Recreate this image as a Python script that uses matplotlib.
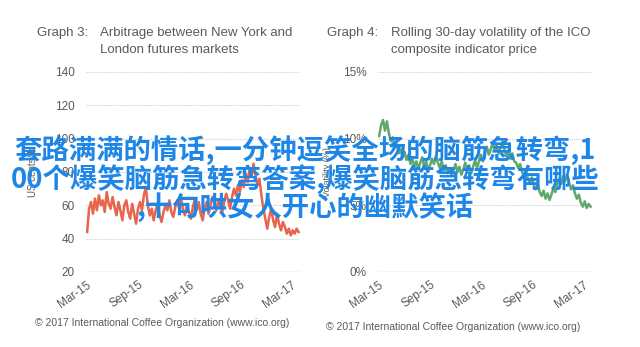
import matplotlib
matplotlib.use("Agg")
import matplotlib.pyplot as plt
import matplotlib.dates as mdates
import numpy as np
import pandas as pd

plt.rcParams["font.family"] = ["Liberation Sans", "DejaVu Sans"]

# ---- data ----
dates = pd.date_range("2015-03-02", periods=109, freq="7D")
arbitrage = [44, 58, 62, 55, 64,
             57, 66, 60, 63, 56, 68, 61, 58, 65,
             59, 54, 62, 57, 51, 60, 63, 56, 52, 61, 55, 49, 58,
             62, 57, 66, 71, 60, 54, 58, 51, 57,
             61, 54, 50, 56, 60, 57, 63, 56, 53, 59, 63, 58, 65, 57, 54, 61, 56,
             52, 59, 64, 57, 62, 55, 51, 58, 62, 55, 60, 65, 61, 57, 63, 59, 56,
             62, 67, 63, 58, 65, 70, 66, 72, 68, 75, 71, 79, 74,
             82, 77, 85, 78, 72, 76, 66, 58, 52,
             46, 53, 58, 51, 47, 55, 49, 45, 50, 47, 43, 46, 42, 45, 43, 46, 44]
volatility = [10.2, 11.0, 11.4, 10.6, 11.3,
              10.4, 9.8, 10.1, 9.3, 9.6, 8.9, 9.2, 8.6, 9.0,
              8.4, 8.8, 8.1, 8.5, 7.9, 8.3, 7.7, 8.2, 8.6, 7.9, 8.3, 7.6, 8.0,
              8.5, 8.1, 8.7, 8.2, 7.8, 8.3, 7.6, 8.0, 7.4,
              7.8, 7.2, 7.6, 8.1, 7.5, 7.9, 7.3, 7.7, 8.2, 7.6, 8.0, 7.4, 7.9, 8.4, 7.8, 8.3, 8.8,
              8.3, 8.9, 9.4, 8.8, 9.2, 9.7, 9.1, 9.5, 8.9, 9.3, 9.8, 9.2, 8.7, 9.1, 8.5, 8.9, 8.3,
              8.2, 7.8, 8.1, 7.5, 7.2, 7.6, 7.0, 6.7, 7.1, 6.5, 6.2, 6.6, 6.0,
              5.7, 6.1, 5.5, 5.9, 5.4, 5.8, 6.3, 6.0, 6.6,
              7.0, 6.6, 7.2, 6.8, 7.3, 6.7, 6.2, 6.5, 5.9, 5.5, 5.8, 5.2, 4.9, 5.3, 4.8, 5.1, 4.9]
tick_dates = pd.to_datetime(["2015-03-01", "2015-09-01", "2016-03-01", "2016-09-01", "2017-03-01"])
left_yticks = [20, 40, 60, 80, 100, 120, 140]
right_yticks = [0, 5, 10, 15]
right_ylabels = ["0%", "5%", "10%", "15%"]

overlay_lines = ["套路满满的情话,一分钟逗笑全场的脑筋急转弯,1",
                 "00个爆笑脑筋急转弯答案,爆笑脑筋急转弯有哪些",
                 ",十句哄女人开心的幽默笑话"]

# ---- figure ----
W, H = 640, 347
fig = plt.figure(figsize=(6.4, 3.47), dpi=100)
fig.patch.set_facecolor("white")
grey = "#5a5a5a"
gridc = "#cfcfcf"

def px(x0, y0, x1, y1):
    return [x0 / W, 1 - y1 / H, (x1 - x0) / W, (y1 - y0) / H]

ax1 = fig.add_axes(px(86, 72, 300, 272))
ax2 = fig.add_axes(px(378, 72, 592, 272))

def style(ax, yticks, ylabels, ylim):
    for s in ax.spines.values():
        s.set_visible(False)
    ax.set_ylim(*ylim)
    ax.set_yticks(yticks)
    ax.set_yticklabels(ylabels)
    ax.set_xlim(pd.Timestamp("2015-02-26"), pd.Timestamp("2017-04-01"))
    ax.set_xticks(tick_dates)
    ax.xaxis.set_major_formatter(mdates.DateFormatter("%b-%y"))
    ax.tick_params(length=0, colors=grey, labelsize=8.5, pad=8)
    ax.tick_params(axis="x", pad=5)
    for lab in ax.get_xticklabels():
        lab.set_rotation(35)
        lab.set_ha("right")
        lab.set_rotation_mode("anchor")
    for t in yticks[1:]:
        ax.axhline(t, color=gridc, lw=0.8, ls=(0, (1, 1)), zorder=0)
    ax.axhline(yticks[0], color=gridc, lw=1.0, zorder=0)

style(ax1, left_yticks, [str(v) for v in left_yticks], (20, 140))
style(ax2, right_yticks, right_ylabels, (0, 15))

ax1.plot(dates, arbitrage, color="#e8644c", lw=1.8)
ax2.plot(dates, volatility, color="#5fa86a", lw=1.8)

ax1.set_ylabel("US cents/lb", color=grey, fontsize=7, labelpad=12)
ax2.set_ylabel("Volatility (%)", color=grey, fontsize=6.5, labelpad=8)

# titles
tfs = 9.5
fig.text(37 / W, 1 - 33 / H, "Graph 3:", color=grey, fontsize=tfs, va="center")
fig.text(100 / W, 1 - 33 / H, "Arbitrage between New York and", color=grey, fontsize=tfs, va="center")
fig.text(100 / W, 1 - 50 / H, "London futures markets", color=grey, fontsize=tfs, va="center")
fig.text(327 / W, 1 - 33 / H, "Graph 4:", color=grey, fontsize=tfs, va="center")
fig.text(391 / W, 1 - 33 / H, "Rolling 30-day volatility of the ICO", color=grey, fontsize=tfs, va="center")
fig.text(391 / W, 1 - 50 / H, "composite indicator price", color=grey, fontsize=tfs, va="center")

# footers
fig.text(35 / W, 1 - 323 / H, "© 2017 International Coffee Organization (www.ico.org)", color=grey, fontsize=7.5, va="center")
fig.text(326 / W, 1 - 327 / H, "© 2017 International Coffee Organization (www.ico.org)", color=grey, fontsize=7.5, va="center")

# overlay text
for line, yc in zip(overlay_lines, [150, 180, 207]):
    fig.text(305 / W, 1 - yc / H, line, color="#1e86e6", fontsize=19.7, fontweight="bold",
             family=["Noto Sans CJK SC", "DejaVu Sans"], ha="center", va="center")

fig.savefig("out.png", dpi=100, facecolor="white")
